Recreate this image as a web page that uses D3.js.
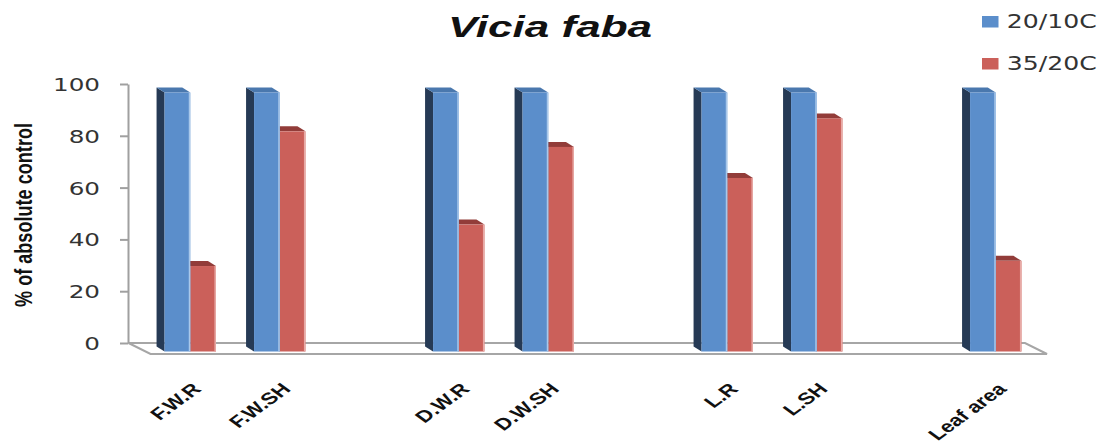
<!DOCTYPE html>
<html>
<head>
<meta charset="utf-8">
<script src="https://cdn.jsdelivr.net/npm/d3@7"></script>
<style>
  html, body { margin: 0; padding: 0; background: #fff; }
  svg { display: block; }
</style>
</head>
<body>
<svg id="chart" width="1105" height="444"></svg>
<script>
// Growth responses of Vicia faba under two temperature regimes
const categories = ["F.W.R", "F.W.SH", "", "D.W.R", "D.W.SH", "", "L.R", "L.SH", "", "Leaf area"];
const seriesNames = ["20/10C", "35/20C"];
const values2010 = [100, 100, null, 100, 100, null, 100, 100, null, 100];
const values3520 = [33, 85, null, 49, 79, null, 67, 90, null, 35];
const yTicks = [0, 20, 40, 60, 80, 100];

const svg = d3.select("#chart");
const SX = 1.37;                 // horizontal stretch of all lettering
const FRONT = { dx: 17, dy: 8.5 };   // bar front plane relative to back wall
const BAR_D = { dx: -8, dy: -5 };    // bar depth (front -> back)
const FLOOR = { dx: 22, dy: 11 };    // floor depth (back -> front)

const colors = {
  "20/10C": { front: "#5b8ecb", side: "#263a55", top: "#4a78ae", edge: "#a9c8ea" },
  "35/20C": { front: "#cb605a", side: "#7a2e2b", top: "#923c39", edge: "#e8aaa6" }
};

const y = d3.scaleLinear().domain([0, 100]).range([343, 84]);
const x0 = d3.scaleBand().domain(d3.range(categories.length))
  .range([128.5, 1023.5]).paddingInner(0.426).paddingOuter(0.213);
const x1 = d3.scaleBand().domain(seriesNames).range([0, x0.bandwidth()]);

// floor
const [fx0, fx1] = x0.range();
const fy = y(0);
svg.append("path")
  .attr("d", `M${fx0},${fy} L${fx1 + 1.5},${fy} L${fx1 + 1.5 + FLOOR.dx},${fy + FLOOR.dy} L${fx0 + FLOOR.dx},${fy + FLOOR.dy} Z`)
  .attr("fill", "#fff").attr("stroke", "#a6a6a6").attr("stroke-width", 2);

// y axis
const yAxis = svg.append("g").attr("transform", "translate(128,0)")
  .call(d3.axisLeft(y).tickValues(yTicks).tickSize(8).tickSizeOuter(0));
yAxis.select(".domain").attr("stroke", "#a0a0a0").attr("stroke-width", 2);
yAxis.selectAll(".tick line").attr("stroke", "#a0a0a0").attr("stroke-width", 2);
yAxis.selectAll(".tick text")
  .attr("font-family", "DejaVu Sans").attr("font-size", 18).attr("fill", "#333")
  .attr("x", -28 / SX).attr("dy", "0.36em")
  .attr("transform", `scale(${SX},1)`);

// bars
const rows = categories.map((c, i) => ({ i, c, vals: [values3520[i], values2010[i]] }));
const barsG = svg.append("g");
rows.forEach(r => {
  if (r.vals[0] == null) return;
  // red first so the blue bar in front covers its hidden side
  ["35/20C", "20/10C"].forEach((s, k) => {
    const v = r.vals[k];
    const col = colors[s];
    const xl = x0(r.i) + x1(s) + FRONT.dx;
    const w = x1.bandwidth();
    const yt = y(v) + FRONT.dy;
    const yb = y(0) + FRONT.dy;
    const g = barsG.append("g");
    // left side
    g.append("path")
      .attr("d", `M${xl},${yt} L${xl + BAR_D.dx},${yt + BAR_D.dy} L${xl + BAR_D.dx},${yb + BAR_D.dy} L${xl},${yb} Z`)
      .attr("fill", col.side);
    // top cap
    g.append("path")
      .attr("d", `M${xl},${yt} L${xl + BAR_D.dx},${yt + BAR_D.dy} L${xl + w + BAR_D.dx},${yt + BAR_D.dy} L${xl + w},${yt} Z`)
      .attr("fill", col.top);
    // front face
    g.append("rect").attr("x", xl).attr("y", yt).attr("width", w).attr("height", yb - yt)
      .attr("fill", col.front);
    // light right edge
    g.append("rect").attr("x", xl + w - 1.5).attr("y", yt).attr("width", 1.5).attr("height", yb - yt)
      .attr("fill", col.edge);
  });
});

// category labels
svg.append("g").selectAll("text")
  .data(rows.filter(r => r.c !== ""))
  .join("text")
  .attr("transform", r => `translate(${x0(r.i) + x0.bandwidth() / 2 + FRONT.dx + 12},390) scale(${SX},1) rotate(-45)`)
  .attr("text-anchor", "end")
  .attr("font-family", "Liberation Sans, Arial, sans-serif")
  .attr("font-weight", "bold").attr("font-size", 16.5).attr("fill", "#111")
  .text(r => r.c);

// y axis title
svg.append("text")
  .attr("transform", `translate(32,215) scale(${SX},1) rotate(-90)`)
  .attr("text-anchor", "middle")
  .attr("font-family", "Liberation Sans, Arial, sans-serif")
  .attr("font-weight", "bold").attr("font-size", 18).attr("fill", "#111")
  .attr("textLength", 184).attr("lengthAdjust", "spacingAndGlyphs")
  .text("% of absolute control");

// title
svg.append("text")
  .attr("transform", `translate(550,37) scale(${SX},1)`)
  .attr("text-anchor", "middle")
  .attr("font-family", "Liberation Sans, Arial, sans-serif")
  .attr("font-weight", "bold").attr("font-style", "italic").attr("font-size", 29).attr("fill", "#111")
  .attr("textLength", 149).attr("lengthAdjust", "spacingAndGlyphs")
  .text("Vicia faba");

// legend
const legend = svg.append("g").selectAll("g").data(seriesNames).join("g")
  .attr("transform", (d, i) => `translate(982,${16 + i * 42})`);
legend.append("rect").attr("width", 16.5).attr("height", 11.5)
  .attr("fill", d => colors[d].front);
legend.append("text")
  .attr("transform", `translate(24.7,12.3) scale(${SX},1)`)
  .attr("font-family", "DejaVu Sans").attr("font-size", 19.5).attr("fill", "#333")
  .attr("textLength", 90 / SX).attr("lengthAdjust", "spacingAndGlyphs")
  .text(d => d);
</script>
</body>
</html>
